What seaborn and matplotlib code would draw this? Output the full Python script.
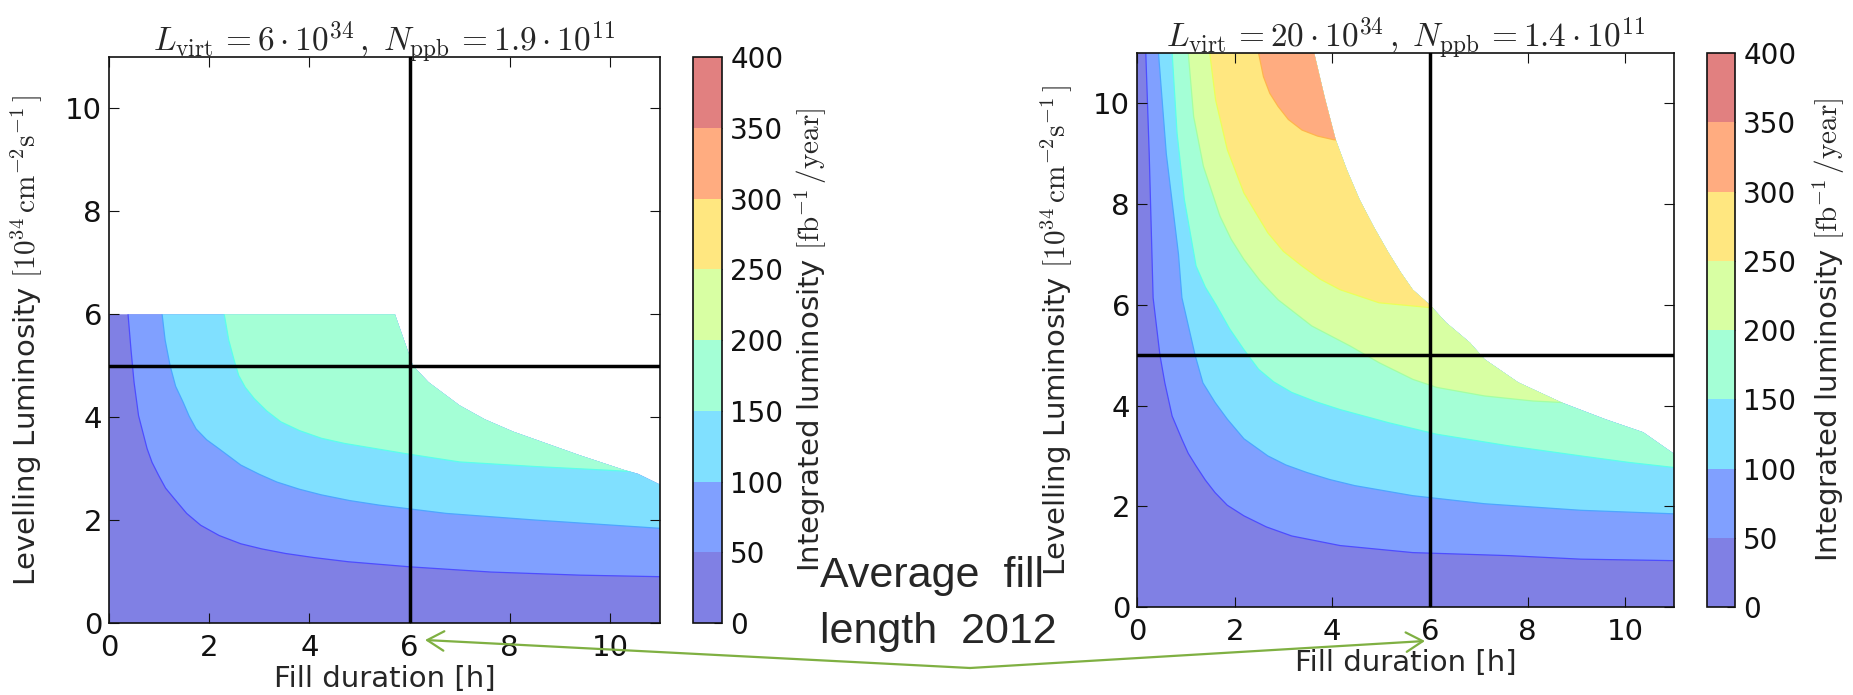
import numpy as np
import matplotlib
matplotlib.use("Agg")
import matplotlib.pyplot as plt
import seaborn as sns
from matplotlib.patches import Polygon, FancyArrowPatch
from matplotlib.colors import ListedColormap, BoundaryNorm
from matplotlib.cm import ScalarMappable

# ---------------- data ----------------
levels = [0, 50, 100, 150, 200, 250, 300, 350, 400]
xticks = [0, 2, 4, 6, 8, 10]
yticks = [0, 2, 4, 6, 8, 10]
fill_length_2012 = 6.0        # vertical reference line [h]
ref_luminosity = 5.0          # horizontal reference line [1e34]

left_title = r"$L_{\rm virt}\,=6\cdot10^{34}\,,\;N_{\rm ppb}\,=1.9\cdot10^{11}$"
right_title = r"$L_{\rm virt}\,=20\cdot10^{34}\,,\;N_{\rm ppb}\,=1.4\cdot10^{11}$"

# left panel: domain where levelling is possible (outline)
left_dom_x = [0, 11, 11, 10.96, 10.56, 10.3, 9.4, 8.07, 7.5, 7.0, 6.38, 6.07, 5.93, 5.71, 0]
left_dom_y = [0, 0, 2.69, 2.71, 2.9, 2.97, 3.26, 3.72, 3.96, 4.23, 4.68, 5.0, 5.39, 6.0, 6.0]
# left panel contour lines (level boundaries)
left_c50_x = [0.38, 0.44, 0.50, 0.59, 0.76, 0.86, 0.99, 1.13, 1.30, 1.55, 1.83, 2.2, 2.63,
              3.05, 3.53, 4.1, 4.78, 6.03, 7.63, 9.40, 11.0]
left_c50_y = [6.0, 5.3, 4.68, 4.03, 3.39, 3.12, 2.87, 2.62, 2.42, 2.13, 1.90, 1.70, 1.54,
              1.44, 1.35, 1.27, 1.19, 1.09, 0.99, 0.93, 0.90]
left_c100_x = [1.06, 1.12, 1.22, 1.33, 1.48, 1.60, 1.74, 1.95, 2.19, 2.63, 3.0, 3.35, 3.8,
               4.24, 4.8, 5.40, 6.73, 8.52, 11.0]
left_c100_y = [6.0, 5.5, 5.0, 4.6, 4.29, 4.02, 3.77, 3.56, 3.39, 3.07, 2.89, 2.74, 2.60,
               2.49, 2.38, 2.29, 2.13, 2.0, 1.84]
left_c150_x = [2.30, 2.39, 2.50, 2.59, 2.72, 2.90, 3.15, 3.43, 3.8, 4.24, 4.7, 5.13, 5.93,
               7.0, 8.52, 9.94, 10.5, 11.0]
left_c150_y = [6.0, 5.5, 5.1, 4.81, 4.58, 4.36, 4.12, 3.91, 3.74, 3.59, 3.49, 3.42, 3.29,
               3.13, 3.04, 2.97, 2.94, 2.90]

# right panel
right_dom_x = [0, 11, 11, 10.96, 10.37, 9.59, 8.70, 7.81, 7.12, 6.82, 6.33, 6.0, 5.65,
               5.4, 5.15, 4.85, 4.56, 4.3, 4.07, 3.85, 3.63, 0]
right_dom_y = [0, 0, 3.04, 3.07, 3.47, 3.73, 4.06, 4.46, 4.92, 5.25, 5.65, 6.0, 6.30,
               6.65, 7.04, 7.55, 8.09, 8.68, 9.28, 10.1, 11.0, 11.0]
right_c50_x = [0.18, 0.25, 0.33, 0.47, 0.57, 0.72, 0.92, 1.05, 1.21, 1.40, 1.60, 1.85, 2.19,
               2.65, 3.17, 4.16, 5.65, 7.61, 9.09, 11.0]
right_c50_y = [11.0, 9.0, 6.14, 5.0, 4.45, 3.79, 3.33, 3.05, 2.80, 2.52, 2.27, 2.02, 1.81,
               1.59, 1.41, 1.22, 1.08, 1.02, 0.95, 0.92]
right_c100_x = [0.44, 0.60, 0.85, 0.92, 1.19, 1.35, 1.60, 1.85, 2.19, 2.68, 3.05, 3.48,
                3.95, 4.46, 5.65, 7.12, 9.09, 11.0]
right_c100_y = [11.0, 9.0, 7.0, 6.14, 5.0, 4.45, 4.06, 3.73, 3.34, 3.0, 2.82, 2.67, 2.53,
                2.41, 2.21, 2.05, 1.92, 1.85]
right_c150_x = [0.72, 0.82, 0.97, 1.21, 1.40, 1.62, 1.90, 2.19, 2.49, 2.8, 3.17, 3.65, 4.16,
                5.15, 6.14, 7.61, 9.09, 10.08, 11.0]
right_c150_y = [11.0, 9.41, 8.09, 6.77, 6.35, 6.0, 5.52, 5.11, 4.72, 4.47, 4.26, 4.08, 3.92,
                3.66, 3.43, 3.20, 3.0, 2.87, 2.77]
right_c200_x = [1.05, 1.16, 1.36, 1.70, 1.93, 2.19, 2.52, 2.89, 3.58, 4.37, 4.96, 5.65,
                6.14, 7.12, 8.11, 8.70, 9.2]
right_c200_y = [11.0, 9.74, 8.75, 7.76, 7.30, 6.90, 6.48, 6.10, 5.58, 5.18, 4.85, 4.52,
                4.36, 4.19, 4.09, 4.06, 4.04]
right_c250_x = [1.49, 1.61, 1.85, 2.19, 2.68, 3.0, 3.38, 3.75, 4.16, 4.96, 5.94, 6.3]
right_c250_y = [11.0, 10.07, 9.08, 8.22, 7.43, 7.06, 6.77, 6.51, 6.30, 6.04, 5.95, 5.93]
right_c300_x = [2.49, 2.59, 2.72, 2.89, 3.10, 3.38, 3.7, 4.02, 4.3]
right_c300_y = [11.0, 10.53, 10.2, 9.94, 9.68, 9.47, 9.35, 9.28, 9.25]

# ---------------- style ----------------
sns.set_style("ticks")
plt.rcParams["font.family"] = ["DejaVu Sans"]
plt.rcParams["mathtext.fontset"] = "cm"

W, H = 1853, 695
fig = plt.figure(figsize=(W / 100, H / 100), dpi=100)

def frac(x0, y0, x1, y1):
    return [x0 / W, 1 - y1 / H, (x1 - x0) / W, (y1 - y0) / H]

jet = plt.get_cmap("jet")
alpha = 0.5
def blend(c, a):
    return tuple(a * np.array(c[:3]) + (1 - a))

n_bands = len(levels) - 1
band_colors = [blend(jet((i + 0.5) / n_bands), alpha) for i in range(n_bands)]
edge_colors = [blend(jet((i + 1) / n_bands), 0.7) for i in range(n_bands)]
cmap = ListedColormap(band_colors)
norm = BoundaryNorm(levels, n_bands)

TICK = 21
CTICK = 20
LAB = 21

def panel(ax, cax, title, dom_x, dom_y, contours):
    ax.set_xlim(0, 11)
    ax.set_ylim(0, 11)
    dom = Polygon(np.column_stack([dom_x, dom_y]), closed=True,
                  facecolor=band_colors[0], edgecolor="none", zorder=1.0)
    ax.add_patch(dom)
    for i, (cx, cy) in enumerate(contours):
        px = list(cx) + [12, 12, cx[0]]
        py = list(cy) + [cy[-1], 12, 12]
        poly = Polygon(np.column_stack([px, py]), closed=True,
                       facecolor=band_colors[i + 1], edgecolor="none",
                       zorder=1.0 + 0.1 * (i + 1))
        ax.add_patch(poly)
        poly.set_clip_path(dom)
        nlines = len(ax.lines)
        sns.lineplot(x=cx, y=cy, ax=ax, sort=False, estimator=None,
                     color=edge_colors[i], lw=0.9, zorder=2.0)
        for ln in ax.lines[nlines:]:
            ln.set_clip_path(dom)
    ax.axvline(fill_length_2012, color="black", lw=2.5, zorder=3)
    ax.axhline(ref_luminosity, color="black", lw=2.5, zorder=3)
    ax.set_axisbelow(False)
    ax.set_xticks(xticks)
    ax.set_yticks(yticks)
    ax.tick_params(direction="in", top=True, right=True, length=7, width=0.8,
                   labelsize=TICK, colors="#111111")
    ax.tick_params(axis="x", pad=8)
    ax.tick_params(axis="y", pad=5)
    for s in ax.spines.values():
        s.set_linewidth(1.2)
        s.set_color("#111111")
        s.set_visible(True)
    ax.set_title(title, fontsize=24, pad=3)
    ax.set_xlabel("Fill duration [h]", fontsize=LAB)
    ax.set_ylabel(r"Levelling Luminosity $[10^{34}\,\mathrm{cm}^{-2}\mathrm{s}^{-1}\,]$",
                  fontsize=LAB)
    ax.xaxis.set_label_coords(0.5, -0.075)
    sm = ScalarMappable(norm=norm, cmap=cmap)
    cb = fig.colorbar(sm, cax=cax, ticks=levels)
    cb.outline.set_linewidth(1.2)
    cb.outline.set_edgecolor("#111111")
    cax.tick_params(direction="in", length=6, width=0.8, labelsize=CTICK, pad=6,
                    colors="#111111")
    cb.set_label(r"Integrated luminosity $[\mathrm{fb}^{-1}\,/\mathrm{year}]$",
                 fontsize=LAB)
    return cb

axL = fig.add_axes(frac(109, 57, 660, 623))
caxL = fig.add_axes(frac(693, 57, 722, 623))
axR = fig.add_axes(frac(1137, 53, 1674, 607))
caxR = fig.add_axes(frac(1707, 53, 1735, 607))

cbL = panel(axL, caxL, left_title, left_dom_x, left_dom_y,
            [(left_c50_x, left_c50_y), (left_c100_x, left_c100_y),
             (left_c150_x, left_c150_y)])
cbR = panel(axR, caxR, right_title, right_dom_x, right_dom_y,
            [(right_c50_x, right_c50_y), (right_c100_x, right_c100_y),
             (right_c150_x, right_c150_y), (right_c200_x, right_c200_y),
             (right_c250_x, right_c250_y), (right_c300_x, right_c300_y)])

# ylabel anchor = right edge of the rotated text
axL.yaxis.set_label_coords(-0.118, 0.5)
axR.yaxis.set_label_coords(-0.118, 0.5)
caxL.yaxis.set_label_coords(3.45, 0.5)
caxR.yaxis.set_label_coords(3.7, 0.5)

# ---------------- slide annotation ----------------
fig.text(820 / W, 1 - 587 / H, "Average  fill", fontsize=31,
         family=["Liberation Sans", "DejaVu Sans"], va="baseline", ha="left")
fig.text(820 / W, 1 - 643 / H, "length  2012", fontsize=31,
         family=["Liberation Sans", "DejaVu Sans"], va="baseline", ha="left")

green = "#7fb042"
vertex = (970 / W, 1 - 668 / H)
for tip in [(425 / W, 1 - 640 / H), (1425 / W, 1 - 641 / H)]:
    arr = FancyArrowPatch(vertex, tip, transform=fig.transFigure,
                          arrowstyle="->,head_length=0.6,head_width=0.35",
                          mutation_scale=20, color=green, lw=1.6,
                          shrinkA=0, shrinkB=0)
    fig.add_artist(arr)

fig.savefig("out.png", dpi=100)
